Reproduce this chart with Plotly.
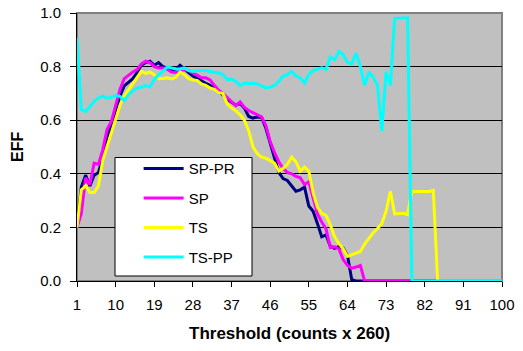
import plotly.graph_objects as go

threshold = list(range(1, 101))

sp_pr = [0.20, 0.35, 0.395, 0.355, 0.395, 0.405, 0.46, 0.535, 0.58, 0.64,
         0.69, 0.728, 0.742, 0.755, 0.778, 0.805, 0.815, 0.82, 0.805, 0.815,
         0.80, 0.795, 0.787, 0.79, 0.805, 0.79, 0.778, 0.765, 0.755, 0.748,
         0.738, 0.73, 0.718, 0.705, 0.695, 0.678, 0.668, 0.656, 0.662, 0.645,
         0.614, 0.608, 0.612, 0.61, 0.57, 0.51, 0.46, 0.405, 0.382, 0.375,
         0.355, 0.335, 0.34, 0.35, 0.28, 0.26, 0.215, 0.165, 0.172, 0.13,
         0.122, 0.128, 0.122, 0.095, 0.005] + [0.0] * 35

sp = [0.20, 0.25, 0.385, 0.36, 0.44, 0.435, 0.49, 0.565, 0.595, 0.655,
      0.715, 0.755, 0.768, 0.78, 0.789, 0.81, 0.82, 0.815, 0.80, 0.795,
      0.795, 0.79, 0.78, 0.778, 0.785, 0.788, 0.786, 0.775, 0.768, 0.758,
      0.758, 0.75, 0.73, 0.712, 0.70, 0.685, 0.668, 0.654, 0.668, 0.648,
      0.636, 0.628, 0.622, 0.612, 0.58, 0.52, 0.48, 0.445, 0.42, 0.405,
      0.40, 0.39, 0.385, 0.36, 0.37, 0.31, 0.25, 0.22, 0.195, 0.125,
      0.128, 0.12, 0.08, 0.058, 0.048, 0.052, 0.058] + [0.0] * 33

ts = [0.20, 0.34, 0.355, 0.33, 0.33, 0.355, 0.45, 0.50, 0.55, 0.60,
      0.655, 0.69, 0.714, 0.735, 0.76, 0.782, 0.775, 0.78, 0.77, 0.755,
      0.756, 0.758, 0.754, 0.76, 0.78, 0.77, 0.755, 0.75, 0.748, 0.735,
      0.73, 0.72, 0.715, 0.703, 0.70, 0.66, 0.645, 0.635, 0.62, 0.60,
      0.56, 0.50, 0.475, 0.462, 0.458, 0.45, 0.44, 0.41, 0.42, 0.435,
      0.462, 0.445, 0.41, 0.425, 0.41, 0.33, 0.275, 0.252, 0.245, 0.21,
      0.165, 0.14, 0.12, 0.092, 0.098, 0.103, 0.11, 0.138, 0.16, 0.18,
      0.196, 0.215, 0.26, 0.335, 0.25, 0.252, 0.253, 0.248, 0.334, 0.334,
      0.334, 0.334, 0.334, 0.338] + [0.0] * 16

ts_pp = [0.907, 0.639, 0.633, 0.652, 0.67, 0.683, 0.69, 0.682, 0.685, 0.692,
         0.689, 0.673, 0.695, 0.71, 0.72, 0.724, 0.729, 0.724, 0.751, 0.77,
         0.782, 0.799, 0.795, 0.791, 0.791, 0.795, 0.785, 0.782, 0.785, 0.786,
         0.785, 0.782, 0.78, 0.776, 0.77, 0.751, 0.754, 0.745, 0.729, 0.739,
         0.737, 0.738, 0.735, 0.728, 0.72, 0.724, 0.73, 0.745, 0.764, 0.77,
         0.782, 0.765, 0.758, 0.739, 0.77, 0.785, 0.789, 0.795, 0.79, 0.836,
         0.826, 0.857, 0.845, 0.815, 0.81, 0.85, 0.80, 0.73, 0.78, 0.76,
         0.73, 0.56, 0.78, 0.73, 0.98, 0.98, 0.98, 0.982] + [0.0] * 22

x_ticks = [1, 10, 19, 28, 37, 46, 55, 64, 73, 82, 91, 100]
y_ticks = [0.0, 0.2, 0.4, 0.6, 0.8, 1.0]

series = [("SP-PR", sp_pr, "#000080"),
          ("SP", sp, "#FF00FF"),
          ("TS", ts, "#FFFF00"),
          ("TS-PP", ts_pp, "#00FFFF")]

fig = go.Figure()
for i, (name, vals, col) in enumerate(series):
    fig.add_trace(go.Scatter(x=threshold, y=vals, mode="lines", name=name,
                             legendgroup=f"g{i}",
                             line=dict(color=col, width=3)))

font_family = "Liberation Sans, Arial, sans-serif"

fig.update_layout(
    width=523, height=351,
    margin=dict(l=77, r=21, t=13, b=70, autoexpand=False),
    paper_bgcolor="white",
    plot_bgcolor="#C0C0C0",
    font=dict(family=font_family, size=15, color="black"),
    showlegend=True,
    legend=dict(x=0.145, y=0.48, xanchor="left", yanchor="top",
                bgcolor="rgba(0,0,0,0)", borderwidth=0,
                font=dict(size=15, family=font_family),
                tracegroupgap=7, itemwidth=40),
    xaxis=dict(range=[1, 100], tickmode="array", tickvals=x_ticks,
               ticktext=[str(v) for v in x_ticks],
               showgrid=False, zeroline=False, automargin=False,
               showline=True, linecolor="black", linewidth=1,
               ticks="outside", ticklen=5, tickcolor="black",
               ticklabelstandoff=5),
    yaxis=dict(range=[0, 1], tickmode="array", tickvals=y_ticks,
               ticktext=[f"{v:.1f}" for v in y_ticks],
               showgrid=True, gridcolor="black", gridwidth=1,
               zeroline=False, automargin=False,
               showline=True, linecolor="black", linewidth=1,
               ticks="outside", ticklen=6, tickcolor="black",
               ticklabelstandoff=6),
    shapes=[
        dict(type="rect", xref="paper", yref="paper", x0=0, x1=1, y0=0, y1=1,
             line=dict(color="#808080", width=2), layer="below"),
        dict(type="rect", xref="paper", yref="paper",
             x0=(115 - 77) / 425, x1=(252 - 77) / 425,
             y0=(281 - 276) / 268, y1=(281 - 157.5) / 268,
             line=dict(color="black", width=1), fillcolor="white",
             layer="above"),
    ],
    annotations=[
        dict(text="<b>Threshold (counts x 260)</b>", xref="paper", yref="paper",
             x=0.5, y=(281 - 333) / 268, xanchor="center", yanchor="middle",
             showarrow=False, font=dict(size=17, family=font_family)),
        dict(text="<b>EFF</b>", xref="paper", yref="paper",
             x=(17 - 77) / 425, y=0.5, xanchor="center", yanchor="middle",
             textangle=-90, showarrow=False,
             font=dict(size=16, family=font_family)),
    ],
)

fig.write_html("out.html")
